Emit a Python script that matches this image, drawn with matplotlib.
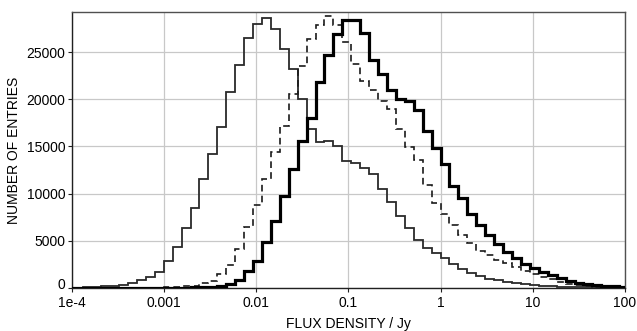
import matplotlib
matplotlib.use("Agg")
import matplotlib.pyplot as plt
import matplotlib.transforms as mtransforms
import numpy as np

# log10 bin width (bins are aligned with an edge at 1 Jy)
BIN_W = 0.09683
first_bin, last_bin = -42, 20

# counts per bin, bins -42 .. 20
thin_counts = [
    15, 30, 60, 110, 190, 260, 370, 580, 820, 1150,
    1700, 2830, 4300, 6320, 8500, 11500, 14200, 17100, 20780, 23650,
    26480, 27950, 28620, 27490, 25350, 23180, 20070, 16900, 15450, 15630,
    15010, 13450, 13250, 12720, 12060, 10490, 9100, 7680, 6360, 5120,
    4240, 3760, 3180, 2540, 2010, 1590, 1230, 990, 800, 640,
    490, 380, 280, 220, 170, 130, 100, 80, 60, 45,
    35, 25, 20,
]
dashed_counts = [
    0, 0, 0, 0, 5, 5, 10, 15, 20, 30,
    50, 70, 110, 170, 260, 480, 750, 1460, 2490, 4100,
    6500, 8830, 11530, 14380, 17170, 20520, 23580, 26390, 27850, 28790,
    27870, 26030, 23780, 21900, 21020, 19780, 18970, 16890, 14900, 13600,
    10880, 9010, 7840, 6710, 5650, 4770, 3950, 3530, 3000, 2650,
    2270, 1800, 1480, 1200, 920, 670, 460, 320, 210, 150,
    110, 80, 60,
]
thick_counts = [
    0, 0, 0, 0, 0, 0, 0, 5, 5, 10,
    15, 20, 30, 45, 70, 100, 130, 160, 450, 900,
    1750, 2900, 4850, 7130, 9710, 12610, 15540, 18050, 21870, 24670,
    26940, 28370, 28370, 27060, 24150, 22650, 21020, 20000, 19780, 18900,
    16600, 14840, 13140, 10770, 9540, 7840, 6710, 5650, 4640, 3860,
    3210, 2570, 2070, 1720, 1370, 1050, 790, 550, 400, 290,
    220, 180, 140,
]

x_ticks = [1e-4, 1e-3, 1e-2, 1e-1, 1, 10, 100]
x_ticklabels = ["1e-4", "0.001", "0.01", "0.1", "1", "10", "100"]
y_ticks = [0, 5000, 10000, 15000, 20000, 25000]

plt.rcParams["font.family"] = ["Liberation Sans", "DejaVu Sans"]

edges = 10 ** (np.arange(first_bin, last_bin + 2) * BIN_W)

fig = plt.figure(figsize=(6.37, 3.31), dpi=100)
ax = fig.add_axes([71.7 / 637, 1 - 288 / 331, (625 - 71.7) / 637, (288 - 12) / 331])

ax.stairs(thin_counts, edges, color="#2a2a2a", lw=1.3, zorder=3)
ax.stairs(dashed_counts, edges, color="#1a1a1a", lw=1.2, ls=(0, (4, 2.5)), zorder=3)
ax.stairs(thick_counts, edges, color="#000000", lw=2.3, zorder=4)

ax.set_xscale("log")
ax.set_xlim(1e-4, 100)
ax.set_ylim(0, 29250)
ax.set_xticks(x_ticks)
ax.set_xticklabels(x_ticklabels)
ax.xaxis.set_minor_locator(matplotlib.ticker.NullLocator())
ax.set_yticks(y_ticks)

ax.grid(True, color="#c8c8c8", lw=0.9)
ax.set_axisbelow(True)
for s in ax.spines.values():
    s.set_color("#505050")
    s.set_linewidth(1.0)
ax.spines["left"].set_color("#202020")
ax.spines["bottom"].set_color("#202020")

ax.tick_params(axis="both", labelsize=10, length=3, width=0.8, color="#202020", pad=1.5)
ax.tick_params(axis="x", pad=2.5)
ax.set_xlabel("FLUX DENSITY / Jy", fontsize=10, labelpad=5)
ax.set_ylabel("NUMBER OF ENTRIES", fontsize=10, labelpad=4)

# the "0" label sits just above the "1e-4" label
zero_lbl = ax.get_yticklabels()[0]
zero_lbl.set_transform(zero_lbl.get_transform()
                       + mtransforms.ScaledTranslation(0, 3 / 72, fig.dpi_scale_trans))

fig.savefig("out.png", dpi=100)
